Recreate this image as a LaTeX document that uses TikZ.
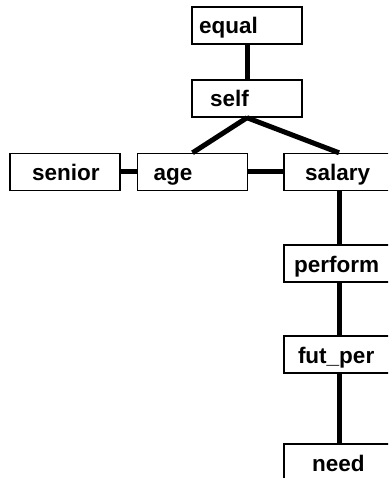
\documentclass[tikz,border=0pt]{standalone}
\usepackage{fontspec}
\setmainfont{Liberation Sans}
\usepackage{tikz}

\begin{document}
\begin{tikzpicture}[x=1pt,y=-1pt,semithick]
    \tikzstyle{box}=[draw=black, line width=1.4pt, rectangle, minimum width=110pt, minimum height=37pt,
        inner ysep=0pt, inner xsep=#1pt, text width={110pt-2*#1pt}, align=left,
        text height=27pt, text depth=10pt,
        font=\fontsize{22.5}{24}\selectfont\bfseries, text=black]
    \tikzstyle{link}=[draw=black, line width=5pt]

    \useasboundingbox (0,0) rectangle (388,478);
    \clip (0,0) rectangle (388,478);

    \node[box=7]  (equal)   at (247,25.5)  {equal};
    \node[box=18] (self)    at (247,98.5)  {self};
    \node[box=22] (senior)  at (65,172)    {senior};
    \node[box=16] (age)     at (192.5,172) {age};
    \node[box=21] (salary)  at (339,172)   {salary};
    \node[box=10] (perform) at (339,263.5) {perform};
    \node[box=14] (futper)  at (339,354.5) {fut\_per};
    \node[box=28] (need)    at (339,462.5) {need};

    \path
     (equal) edge[link] (self)
     (self.south) edge[link] (age.north)
     (self.south) edge[link] (salary.north)
     (senior) edge[link] (age)
     (age) edge[link] (salary)
     (salary) edge[link] (perform)
     (perform) edge[link] (futper)
     (futper) edge[link] (need)
     ;
\end{tikzpicture}
\end{document}
